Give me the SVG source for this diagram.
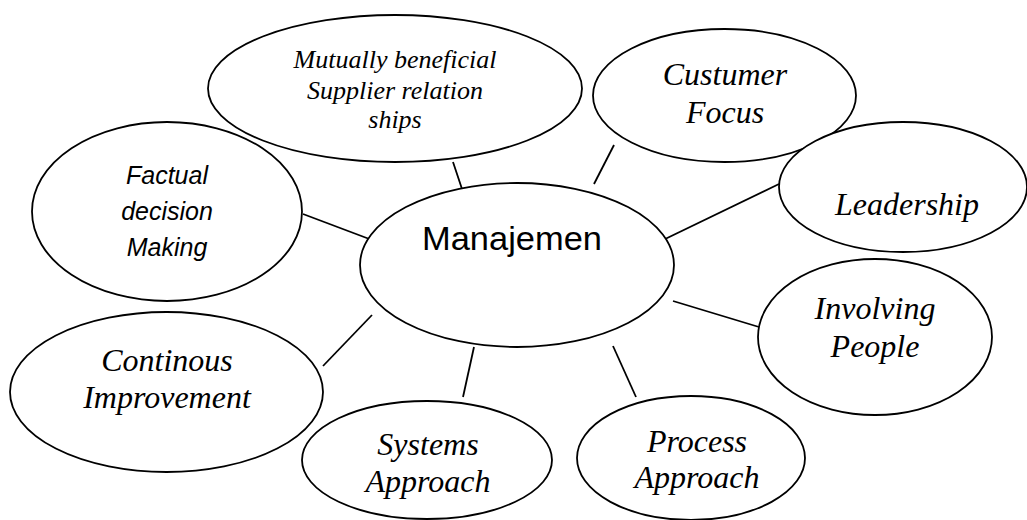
<svg xmlns="http://www.w3.org/2000/svg" width="1027" height="520" viewBox="0 0 1027 520">
  <style>
    .bubble { fill: #ffffff; stroke: #000000; stroke-width: 1.8; }
    .link { stroke: #000000; stroke-width: 1.8; fill: none; }
    .serif { font-family: "Liberation Serif", "Times New Roman", serif; font-style: italic; font-size: 32px; fill: #000000; text-anchor: middle; }
    .small { font-size: 26px; }
    .sans { font-family: "Liberation Sans", Arial, sans-serif; fill: #000000; text-anchor: middle; }
  </style>
  <rect width="1027" height="520" fill="#ffffff"/>

  <!-- short spokes between the hub and the surrounding principles -->
  <g id="connectors">
    <line class="link" x1="453" y1="162" x2="464" y2="195"/>
    <line class="link" x1="614" y1="145" x2="594" y2="184"/>
    <line class="link" x1="779" y1="184" x2="661" y2="241"/>
    <line class="link" x1="673" y1="301" x2="759" y2="327"/>
    <line class="link" x1="613" y1="346" x2="636" y2="397"/>
    <line class="link" x1="474" y1="347" x2="463" y2="397"/>
    <line class="link" x1="372" y1="315" x2="323" y2="366"/>
    <line class="link" x1="303" y1="214" x2="372" y2="240"/>
  </g>

  <g id="supplier">
    <ellipse class="bubble" cx="395" cy="88.5" rx="187" ry="73.5"/>
    <text class="serif small" x="395" y="68">Mutually beneficial</text>
    <text class="serif small" x="395" y="99">Supplier relation</text>
    <text class="serif small" x="395" y="128">ships</text>
  </g>

  <g id="customer">
    <ellipse class="bubble" cx="724.5" cy="95.5" rx="131.5" ry="66.5"/>
    <text class="serif" x="725" y="85">Custumer</text>
    <text class="serif" x="725" y="123">Focus</text>
  </g>

  <g id="leadership">
    <ellipse class="bubble" cx="903" cy="187" rx="124" ry="65"/>
    <text class="serif" x="907" y="215">Leadership</text>
  </g>

  <g id="factual">
    <ellipse class="bubble" cx="167" cy="211.5" rx="135" ry="89.5"/>
    <text class="sans" font-style="italic" font-size="25" x="167" y="184">Factual</text>
    <text class="sans" font-style="italic" font-size="25" x="167" y="220">decision</text>
    <text class="sans" font-style="italic" font-size="25" x="167" y="256">Making</text>
  </g>

  <g id="hub">
    <ellipse class="bubble" cx="517" cy="265" rx="157" ry="82"/>
    <text class="sans" font-size="33" x="512" y="250" textLength="180" lengthAdjust="spacingAndGlyphs">Manajemen</text>
  </g>

  <g id="involving">
    <ellipse class="bubble" cx="875" cy="337" rx="117" ry="78"/>
    <text class="serif" x="875" y="319">Involving</text>
    <text class="serif" x="875" y="357">People</text>
  </g>

  <g id="continuous">
    <ellipse class="bubble" cx="166.5" cy="392" rx="156.5" ry="80"/>
    <text class="serif" x="167" y="371">Continous</text>
    <text class="serif" x="167" y="408">Improvement</text>
  </g>

  <g id="systems">
    <ellipse class="bubble" cx="427" cy="460" rx="125" ry="59"/>
    <text class="serif" x="428" y="455">Systems</text>
    <text class="serif" x="428" y="492">Approach</text>
  </g>

  <g id="process">
    <ellipse class="bubble" cx="691" cy="458" rx="114" ry="62"/>
    <text class="serif" x="697" y="452">Process</text>
    <text class="serif" x="697" y="488">Approach</text>
  </g>
</svg>
